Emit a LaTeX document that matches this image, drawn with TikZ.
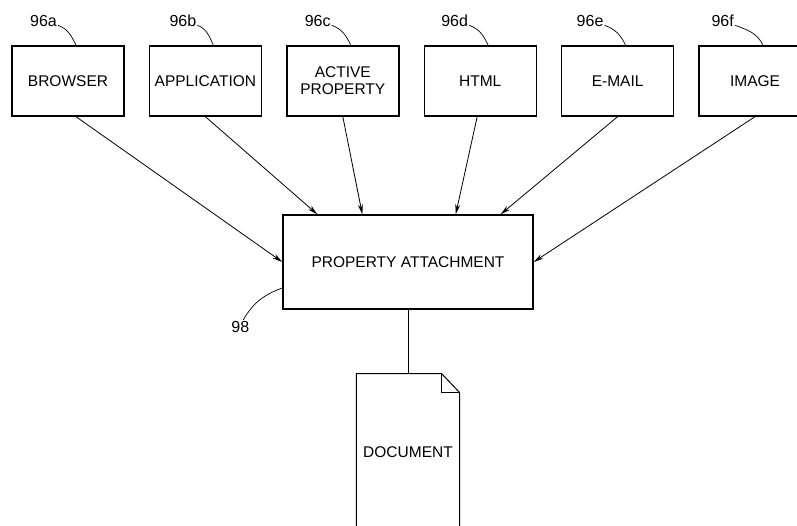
\documentclass[tikz,border=0pt]{standalone}
\usepackage{fontspec}
\setmainfont{Liberation Sans}
\usetikzlibrary{arrows.meta, positioning}

\begin{document}
\begin{tikzpicture}[x = 1pt, y = 1pt,
  srcbox/.style = {rectangle, draw = black, line width = 1.4pt, minimum width = 112pt, minimum height = 70pt, inner sep = 0pt, font = \fontsize{15.5}{17}\selectfont, align = center},
  reflbl/.style = {font = \fontsize{16}{18}\selectfont, inner sep = 1pt},
  leader/.style = {line width = 0.7pt},
  feed/.style = {-{Stealth[length=10pt, width=5pt]}, line width = 0.8pt}]
\useasboundingbox (0,0) rectangle (797,526);
\clip (0,0) rectangle (797,526);
\node[srcbox] (browser) at (68,445) {BROWSER};
\node[srcbox, right = 24pt of browser] (application) {APPLICATION};
\node[srcbox, right = 24pt of application] (active) {ACTIVE \\ PROPERTY};
\node[srcbox, right = 24pt of active] (html) {HTML};
\node[srcbox, right = 24pt of html] (email) {E-MAIL};
\node[srcbox, right = 24pt of email] (image) {IMAGE};
\node[srcbox, minimum width = 250pt, minimum height = 94pt] (pa) at (408,264) {PROPERTY ATTACHMENT};
\node[rectangle, minimum width = 103pt, minimum height = 156pt, inner sep = 0pt, font = \fontsize{15.5}{17}\selectfont, below = 64pt of pa] (doc) {DOCUMENT};
% reference numerals
\node[reflbl, anchor = south east] (l96a) at ([xshift=-10pt, yshift=17pt]browser.north) {96a};
\node[reflbl, anchor = south east] (l96b) at ([xshift=-8pt, yshift=17pt]application.north) {96b};
\node[reflbl, anchor = south east] (l96c) at ([xshift=-11pt, yshift=17pt]active.north) {96c};
\node[reflbl, anchor = south east] (l96d) at ([xshift=-11pt, yshift=17pt]html.north) {96d};
\node[reflbl, anchor = south east] (l96e) at ([xshift=-13pt, yshift=17pt]email.north) {96e};
\node[reflbl, anchor = south east] (l96f) at ([xshift=-20pt, yshift=17pt]image.north) {96f};
\node[reflbl] (l98) at ([xshift=-42pt, yshift=-17pt]pa.south west) {98};
\foreach \lbl/\src in {l96a/browser, l96b/application, l96c/active, l96d/html, l96e/email, l96f/image}
  \draw[leader] ([yshift=3pt]\lbl.south east) to[out=-20, in=115] ([xshift=8pt]\src.north);
\draw[leader] ([yshift=-26pt]pa.west) to[out=200, in=60] ([xshift=3pt]l98.north);
% inputs to the attachment
\draw[feed] ([xshift=8pt]browser.south) -- (pa.west);
\draw[feed] (application.south) -- ([xshift=35pt]pa.north west);
\draw[feed] (active.south) -- ([xshift=80pt]pa.north west);
\draw[feed] ([xshift=-3pt]html.south) -- ([xshift=-78pt]pa.north east);
\draw[feed] (email.south) -- ([xshift=-33pt]pa.north east);
\draw[feed] (image.south) -- (pa.east);
\draw[line width = 0.8pt] (pa.south) -- (doc.north);
% document with folded corner
\draw[line width = 1pt] (doc.south west) -- (doc.north west) -- ([xshift=-18pt]doc.north east) coordinate (fold) -- ([yshift=-19pt]doc.north east) coordinate (foldend) -- (doc.south east);
\draw[line width = 1pt] (fold) |- (foldend);
\end{tikzpicture}
\end{document}
